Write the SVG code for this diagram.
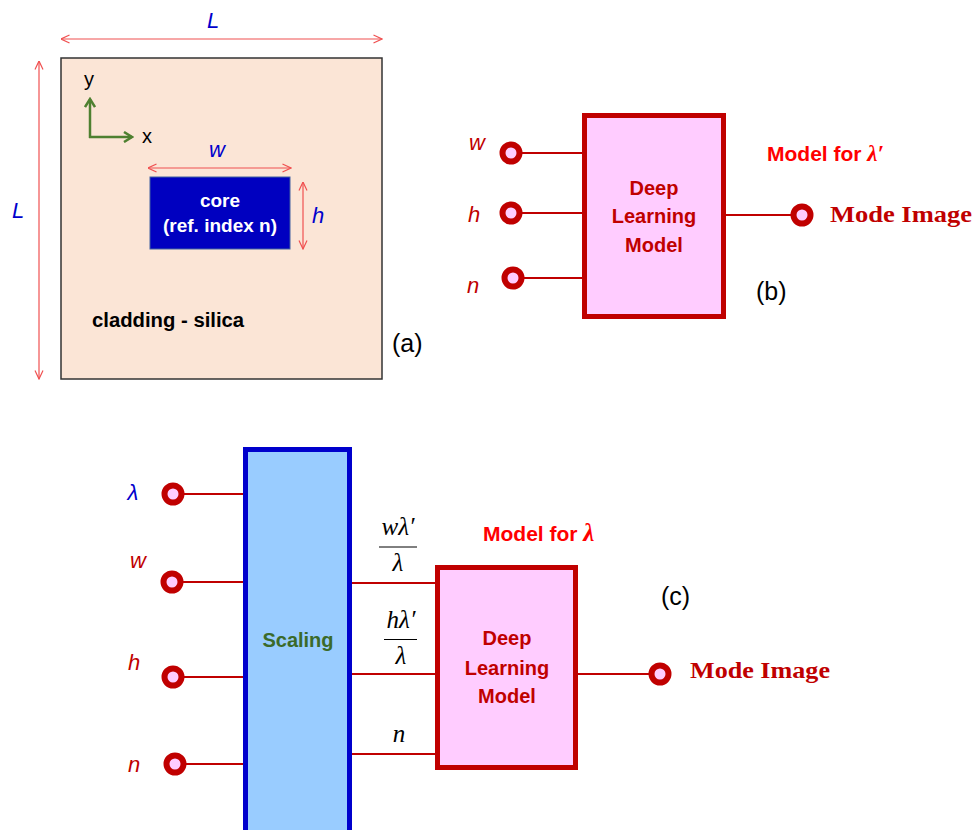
<svg xmlns="http://www.w3.org/2000/svg" width="980" height="830" viewBox="0 0 980 830">
<defs>
<marker id="dimArrow" viewBox="0 0 10 10" refX="9.5" refY="5" markerWidth="10" markerHeight="10" markerUnits="userSpaceOnUse" orient="auto-start-reverse">
<path d="M1,1 L9.5,5 L1,9" fill="none" stroke="#F05050" stroke-width="1.2"/>
</marker>
<marker id="axArrow" viewBox="0 0 12 12" refX="10" refY="6" markerWidth="12" markerHeight="12" markerUnits="userSpaceOnUse" orient="auto">
<path d="M2,1 L10,6 L2,11" fill="none" stroke="#4E8030" stroke-width="2.5"/>
</marker>
<style>
.dim{stroke:#F05050;stroke-width:1.2;fill:none;marker-start:url(#dimArrow);marker-end:url(#dimArrow)}
.ax{stroke:#4E8030;stroke-width:2.5;fill:none;marker-end:url(#axArrow)}
.wire{stroke:#C00000;stroke-width:2;fill:none}
.port{fill:#FFCCFF;stroke:#C00000;stroke-width:6}
.dl{fill:#FFCCFF;stroke:#C00000;stroke-width:5}
.sans{font-family:"Liberation Sans",Arial,sans-serif}
.var{font-family:"Liberation Sans",Arial,sans-serif;font-style:italic;font-size:22px}
.red{fill:#C00000}
.blue{fill:#0000CC}
.dltxt{font-family:"Liberation Sans",Arial,sans-serif;font-weight:bold;font-size:20px;fill:#C00000;text-anchor:middle}
.mode{font-family:"Liberation Serif","Times New Roman",serif;font-weight:bold;font-size:24px;fill:#C00000}
.model{font-family:"Liberation Sans",Arial,sans-serif;font-weight:bold;font-size:21px;fill:#FF0000}
.math{font-family:"Liberation Serif","Times New Roman",serif;font-style:italic;font-size:25px;fill:#000;text-anchor:middle}
.tag{font-family:"Liberation Sans",Arial,sans-serif;font-size:25px;fill:#000}
</style>
</defs>

<!-- Panel (a) -->
<g id="panel-a">
<rect x="61" y="58" width="321" height="321" fill="#FBE5D6" stroke="#333" stroke-width="1.5"/>
<line class="dim" x1="61" y1="39" x2="382" y2="39"/>
<text class="var blue" x="213" y="28" text-anchor="middle" font-size="20">L</text>
<line class="dim" x1="39" y1="61" x2="39" y2="379"/>
<text class="var blue" x="18" y="218" text-anchor="middle" font-size="20">L</text>
<line class="ax" x1="90" y1="138" x2="90" y2="99"/>
<line class="ax" x1="89" y1="137" x2="132" y2="137"/>
<text class="sans" x="89" y="86" text-anchor="middle" font-size="20" fill="#000">y</text>
<text class="sans" x="147" y="143" text-anchor="middle" font-size="20" fill="#000">x</text>
<line class="dim" x1="148" y1="168" x2="291" y2="168"/>
<text class="var blue" x="217" y="157" text-anchor="middle">w</text>
<g id="core">
<rect x="150" y="177" width="140" height="72" fill="#0000C0" stroke="#4060A0" stroke-width="1"/>
<text class="sans" x="220" y="207" text-anchor="middle" font-size="19" font-weight="bold" fill="#fff">core</text>
<text class="sans" x="220" y="232" text-anchor="middle" font-size="19" font-weight="bold" fill="#fff">(ref. index n)</text>
</g>
<line class="dim" x1="303" y1="182" x2="303" y2="249"/>
<text class="var blue" x="318" y="223" text-anchor="middle">h</text>
<text class="sans" x="92" y="327" font-size="20.3" font-weight="bold" fill="#000">cladding - silica</text>
<text class="tag" x="392" y="352">(a)</text>
</g>

<!-- Panel (b) -->
<g id="dl-b">
<rect class="dl" x="584.5" y="115.5" width="139" height="201"/>
<text class="dltxt" x="654" y="195" font-size="18.5">Deep</text>
<text class="dltxt" x="654" y="223" font-size="18.5">Learning</text>
<text class="dltxt" x="654" y="252" font-size="18.5">Model</text>
</g>
<g id="ports-b">
<circle class="port" cx="511" cy="153" r="8.5"/>
<circle class="port" cx="511" cy="213" r="8.5"/>
<circle class="port" cx="513" cy="278" r="8.5"/>
<circle class="port" cx="802" cy="215" r="8.5"/>
<text class="var red" x="477" y="150" text-anchor="middle">w</text>
<text class="var red" x="474" y="222" text-anchor="middle">h</text>
<text class="var red" x="473" y="293" text-anchor="middle">n</text>
<text class="mode" x="830" y="222" textLength="142" lengthAdjust="spacingAndGlyphs">Mode Image</text>
<text class="model" x="767" y="161">Model for <tspan font-family="Liberation Serif,serif" font-style="italic" font-size="23">λ′</tspan></text>
<text class="tag" x="756" y="300">(b)</text>
</g>

<!-- Panel (c) -->
<g id="scaling">
<rect x="245.5" y="449.5" width="104" height="390" fill="#99CCFF" stroke="#0000CC" stroke-width="5"/>
<text class="sans" x="298" y="647" text-anchor="middle" font-size="20" font-weight="bold" fill="#3B6A2A">Scaling</text>
</g>
<g id="dl-c">
<rect class="dl" x="437.5" y="567.5" width="138" height="200"/>
<text class="dltxt" x="507" y="645">Deep</text>
<text class="dltxt" x="507" y="675">Learning</text>
<text class="dltxt" x="507" y="703">Model</text>
</g>
<g id="ports-c">
<circle class="port" cx="173" cy="494" r="8.5"/>
<circle class="port" cx="172" cy="582" r="8.5"/>
<circle class="port" cx="173" cy="677" r="8.5"/>
<circle class="port" cx="175" cy="764" r="8.5"/>
<circle class="port" cx="660" cy="674" r="8.5"/>
<text class="var blue" x="133" y="500" text-anchor="middle" font-family="Liberation Serif,serif">λ</text>
<text class="var red" x="138" y="568" text-anchor="middle">w</text>
<text class="var red" x="134" y="670" text-anchor="middle">h</text>
<text class="var red" x="134" y="772" text-anchor="middle">n</text>
<text class="math" x="398" y="535">wλ′</text>
<line x1="379" y1="547" x2="417" y2="547" stroke="#000" stroke-width="1"/>
<text class="math" x="398" y="571">λ</text>
<text class="math" x="401" y="628">hλ′</text>
<line x1="384" y1="639.5" x2="417" y2="639.5" stroke="#000" stroke-width="1"/>
<text class="math" x="401" y="664">λ</text>
<text class="math" x="399" y="742">n</text>
<text class="model" x="483" y="541" font-size="22">Model for <tspan font-family="Liberation Serif,serif" font-style="italic" font-size="25">λ</tspan></text>
<text class="tag" x="661" y="605">(c)</text>
<text class="mode" x="690" y="678" textLength="140" lengthAdjust="spacingAndGlyphs">Mode Image</text>
</g>

<!-- Connectors -->
<g id="connectors">
<line class="wire" x1="519" y1="153" x2="582" y2="153"/>
<line class="wire" x1="519" y1="213" x2="582" y2="213"/>
<line class="wire" x1="521" y1="278" x2="582" y2="278"/>
<line class="wire" x1="726" y1="215" x2="794" y2="215"/>
<line class="wire" x1="181" y1="494" x2="243" y2="494"/>
<line class="wire" x1="180" y1="582" x2="243" y2="582"/>
<line class="wire" x1="181" y1="677" x2="243" y2="677"/>
<line class="wire" x1="183" y1="764" x2="243" y2="764"/>
<line class="wire" x1="352" y1="583" x2="435" y2="583"/>
<line class="wire" x1="352" y1="674" x2="435" y2="674"/>
<line class="wire" x1="352" y1="754" x2="435" y2="754"/>
<line class="wire" x1="578" y1="674" x2="652" y2="674"/>
</g>
</svg>
